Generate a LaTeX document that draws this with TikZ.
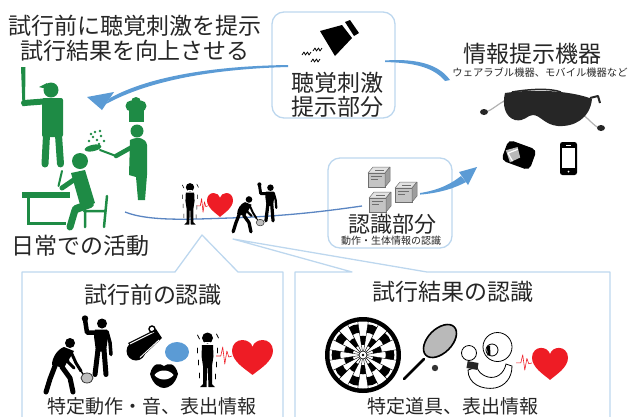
\documentclass[tikz,border=0pt]{standalone}
\usepackage{fontspec}
\newfontfamily\jpfont{Noto Sans CJK JP}
\usetikzlibrary{calc}

\definecolor{ink}{HTML}{262626}
\definecolor{boxline}{HTML}{BDD7EE}
\definecolor{arrowblue}{HTML}{5B9BD5}
\definecolor{linkblue}{HTML}{5A85C2}
\definecolor{leaf}{HTML}{1E8B45}
\definecolor{heartred}{HTML}{EE1C25}
\definecolor{cubetop}{HTML}{E2E2E2}
\definecolor{cubefront}{HTML}{C4C4C4}
\definecolor{cubeside}{HTML}{9E9E9E}
\definecolor{cubeedge}{HTML}{6E6E6E}

\tikzset{
  jp/.style={font=\jpfont\fontsize{#1}{#1}\selectfont, text=ink, inner sep=0pt},
  softbox/.style={draw=boxline, line width=1.3pt, rounded corners=12pt, inner sep=0pt},
  calloutline/.style={draw=boxline, line width=1.3pt, line join=round},
  limb/.style={line width=#1, line cap=round, line join=round},
  % red heart, spanning x -1..1 and y -0.85..0.95 (y grows downwards)
  pics/heart/.style={code={
    \fill[heartred] (0,0.95) .. controls (-0.35,0.65) and (-1,0.25) .. (-1,-0.3)
      .. controls (-1,-0.65) and (-0.75,-0.85) .. (-0.5,-0.85)
      .. controls (-0.25,-0.85) and (-0.05,-0.7) .. (0,-0.5)
      .. controls (0.05,-0.7) and (0.25,-0.85) .. (0.5,-0.85)
      .. controls (0.75,-0.85) and (1,-0.65) .. (1,-0.3)
      .. controls (1,0.25) and (0.35,0.65) .. (0,0.95) -- cycle;
  }},
  % pulse trace, spanning x 0..1
  pics/ecg/.style={code={
    \draw[heartred, line width=0.6pt, line join=round]
      (0,0.1) -- (0.3,0.1) -- (0.42,-0.8) -- (0.55,0.9) -- (0.68,-0.4) -- (0.8,0.2) -- (1,0.1);
  }},
  % trembling person
  pics/stressed/.style={code={
    \fill[black] (0,-22) circle (5.5);
    \fill[black] (-5.5,-15) -- (5.5,-15) -- (6,-4) -- (4.5,6) -- (4.5,24) -- (7.5,27)
      -- (1,27) -- (0.3,8) -- (-0.3,8) -- (-1,27) -- (-7.5,27) -- (-4.5,24) -- (-4.5,6)
      -- (-6,-4) -- cycle;
    \draw[white, limb=0.9*#1] (-2.5,-18) -- (2.5,-18);
    \draw[black, limb=0.8*#1] (-10,-25) -- (-8,-21) (9,-26) -- (11,-22)
      (-10,-12) -- (-10,-7) (10,-12) -- (10,-7) (-9,0) -- (-9,5) (9,2) -- (9,7)
      (-8,13) -- (-8,18) (8,14) -- (8,19);
  }},
  % man raising a fist
  pics/flexer/.style={code={
    \fill[black] (3,-22) circle (5);
    \draw[black, limb=4.5*#1] (-1,-13) -- (-12,-13) -- (-14,-26);
    \fill[black] (-14,-27) circle (3.2);
    \fill[black] (-4,-16) -- (8,-16) -- (9,-9) -- (7,6) -- (-3,6) -- (-5,-9) -- cycle;
    \draw[black, limb=3.5*#1] (8,-14) -- (11,-3) -- (12,9);
    \draw[black, limb=5*#1] (-1,4) -- (-4,29) (5,4) -- (7,29);
  }},
  % tennis player bent forward
  pics/tennis/.style={code={
    \fill[black] (3,-22) circle (5);
    \fill[black] (-3,-18) .. controls (-9,-16) and (-15,-8) .. (-15,0) -- (-3,3)
      .. controls (0,-4) and (5,-9) .. (7,-14) -- cycle;
    \draw[black, limb=5*#1] (-12,1) -- (-17,14) -- (-21,27) (-5,2) -- (3,13) -- (6,27);
    \draw[black, limb=3*#1] (4,-13) -- (9,-2) -- (14,6) (-1,-14) -- (1,-3) -- (7,3);
    \draw[black, limb=1.5*#1] (14,6) -- (16,9);
    \filldraw[fill=gray!50, draw=gray!40!black, line width=0.8*#1] (20,13) ellipse (6 and 5);
  }},
  % grey sensor box
  pics/cube/.style={code={
    \filldraw[fill=cubetop, draw=cubeedge, line width=0.5pt, line join=round]
      (-11,-4) -- (-6,-10) -- (11,-10) -- (6,-4) -- cycle;
    \filldraw[fill=cubefront, draw=cubeedge, line width=0.5pt] (-11,-4) rectangle (6,10);
    \filldraw[fill=cubeside, draw=cubeedge, line width=0.5pt, line join=round]
      (6,-4) -- (11,-10) -- (11,4) -- (6,10) -- cycle;
    \draw[cubeedge, line width=0.4pt] (-8,-1) -- (3,-1) (-8,2) -- (-1,2) (-4,-7) -- (5,-7);
  }},
}

\begin{document}
\begin{tikzpicture}[x=1pt, y=-1pt]
\useasboundingbox (0,0) rectangle (630,416);
\clip (0,0) rectangle (630,416);

% ---------- frames ----------
\node[softbox, minimum width=123pt, minimum height=106pt] (hearbox) at (333.5,65) {};
\node[softbox, minimum width=124pt, minimum height=90pt] (recogbox) at (390,203) {};
\coordinate (calloutL) at (202,235);
\coordinate (calloutR) at (233,239);
\draw[calloutline] (22,420) -- (22,272) -- (175,272) -- (calloutL) -- (238,272) -- (283,272) -- (283,420);
\draw[calloutline] (295,420) -- (295,272) -- (352,272) -- (calloutR) -- (427,272) -- (610,272) -- (610,420);

% ---------- connectors ----------
\coordinate (actEnd) at (125,212);
\coordinate (cueIn) at (362,206);
\coordinate (cueOut) at (420,193);
\coordinate (devIn) at (477,167);
\coordinate (hearL) at (288,65);
\coordinate (hearR) at (385,60.5);
\coordinate (actTip) at (87,97);
\coordinate (devTop) at (450,80);

\draw[linkblue, line width=1.3pt] (actEnd) .. controls (150,222) and (195,219) .. (230,218)
  .. controls (285,216) and (320,212) .. (cueIn);

% recognition -> devices
\fill[arrowblue] (cueOut) .. controls (440,190) and (452,183) .. (461,176)
  -- (466,182) .. controls (455,188) and (440,193) .. ($(cueOut)+(0,1.6)$) -- cycle;
\fill[arrowblue] (devIn) -- (459,172) -- (468,185) -- cycle;

% stimulus unit -> everyday activity
\fill[arrowblue] (hearL) .. controls (215,66) and (150,76) .. (110,98)
  -- (106,104) .. controls (150,80) and (215,69) .. ($(hearL)+(0,2)$) -- cycle;
\fill[arrowblue] (actTip) -- (114,92) -- (102,110) -- cycle;

% stimulus unit -> devices
\fill[arrowblue] (hearR) .. controls (420,58) and (440,66) .. (devTop)
  -- ($(devTop)+(-5,1)$) .. controls (435,69) and (418,62.5) .. ($(hearR)+(0,1.6)$) -- cycle;

% ---------- everyday activities (green) ----------
% batter
\fill[leaf] (21,67) -- (25.5,67) -- (25,106) -- (22.5,106) -- cycle;
\draw[leaf, limb=6] (24,103) -- (50,101);
\fill[leaf] (51,90) circle (7.5);
\fill[leaf] (39,87) -- (47,83) -- (47,89) -- cycle;
\fill[leaf, rounded corners=2pt] (42,98) rectangle (63,137);
\draw[leaf, limb=7] (46.5,135) -- (45,164) (58.5,135) -- (60.5,164);
% chef
\fill[leaf] (129,108) rectangle (144,122);
\fill[leaf] (131,106) circle (5.5);
\fill[leaf] (141,106) circle (5.5);
\fill[leaf] (136,102) circle (5);
\fill[leaf] (137,131) circle (6.5);
\fill[leaf] (130,140) .. controls (138,136) and (146,138) .. (147,145) -- (147,175)
  -- (145,200) -- (138,200) -- (136,177) -- (129,175) -- cycle;
\draw[leaf, limb=4.5] (132,147) -- (116,156);
\draw[leaf, limb=2] (116,156) -- (100,150);
\fill[leaf, rotate around={12:(93,148)}] (93,148) ellipse (8.5 and 3.2);
\foreach \p in {(89,141),(93,137),(97,140),(101,136),(95,132),(100,131),(91,134),(104,141),(99,144)}
  \fill[leaf] \p circle (1.3);
% student at a desk
\fill[leaf] (80,161) circle (8);
\fill[leaf] (71,173) -- (85,170) -- (95,203) -- (81,208) -- cycle;
\draw[leaf, limb=5] (78,177) -- (62,188);
\draw[leaf, limb=2] (62,171) -- (58.5,186);
\draw[leaf, limb=8] (90,204) -- (76,209);
\draw[leaf, limb=7] (75,210) -- (70,227);
\draw[leaf, line width=2.5pt, line cap=round] (107,196) -- (104,227) (84,211) -- (104,211) (85,211) -- (85,227);
\fill[leaf] (22,192) rectangle (70,198);
\draw[leaf, line width=2.5pt] (28.5,198) -- (28.5,223.5) -- (66,223.5);

% ---------- recognised activity (centre) ----------
\pic[scale=0.76] (stressC) at (190,204) {stressed=0.76};
\pic[xscale=11, yscale=8] (ecgC) at (197,205) {ecg};
\pic[xscale=13, yscale=13.3] (heartC) at (220,204.3) {heart};
\pic[scale=0.66] (tennisC) at (247,214) {tennis=0.66};
\pic[scale=0.65] (flexC) at (268.5,202) {flexer=0.65};

% ---------- stimulus unit icon ----------
\fill[black] (320,31) -- (342,25) -- (352,38) -- (335,56) -- cycle;
\fill[black] (345,22) -- (350,20) -- (359,33) -- (354,36) -- cycle;
\draw[black, line width=0.8pt, line join=round]
  (302,55) -- (304,52) -- (305.5,55) -- (307.5,52) -- (309,55) -- (311,52)
  (313,51) -- (315,48) -- (316.5,51) -- (318.5,48) -- (320,51) -- (322,48)
  (311,62) -- (313,59) -- (314.5,62) -- (316.5,59) -- (318,62) -- (320,59);

% ---------- recognition unit icon ----------
\pic (cubeA) at (379,177) {cube};
\pic (cubeB) at (406,192) {cube};
\pic (cubeC) at (380,202) {cube};

% ---------- devices ----------
\draw[gray!60, line width=1.2pt] (506,100) .. controls (498,104) and (492,110) .. (486,112);
\fill[gray!30!black] (484,112) ellipse (4 and 3);
\draw[gray!60, line width=1.2pt] (582,114) .. controls (590,120) and (594,126) .. (599,128);
\fill[gray!30!black] (601,128) ellipse (4 and 3);
\fill[black!85] (505,93) .. controls (540,88) and (575,92) .. (592,99)
  .. controls (590,118) and (575,127) .. (558,126) .. controls (545,125) and (540,115) .. (533,115)
  .. controls (527,115) and (525,122) .. (515,120) .. controls (505,117) and (502,105) .. (505,93) -- cycle;
\draw[black!85, line width=1.5pt] (512,92) .. controls (530,89) and (550,88) .. (561,92);
\draw[black!85, line width=2pt, line join=round] (590,98) -- (598,96) -- (600,103);
\begin{scope}[shift={(519,155)}, rotate=-20]
  \fill[black, rounded corners=5pt] (-15,-11) rectangle (15,11);
  \fill[gray!55] (-14,0) -- (-4,-7) -- (2,2) -- (-6,10) -- cycle;
  \draw[white, line width=1.2pt, line join=round] (-3,-5) -- (-11,2) -- (-4,8);
\end{scope}
\fill[black, rounded corners=2.5pt] (560,142) rectangle (577,175);
\fill[white] (562,148) rectangle (575,168);
\fill[white] (568.5,171.5) circle (1);
\draw[white, line width=0.6pt] (566,145) -- (571,145);

% ---------- before the attempt ----------
\pic (tennisL) at (67,365) {tennis=1};
\pic (flexL) at (99,345.5) {flexer=1};
% whistle
\fill[black] (136,351) circle (9.5);
\fill[black] (128,343) -- (156,329) -- (162,338) -- (141,358) -- cycle;
\draw[white, line width=1.1pt] (130,344) -- (154,332);
\draw[white, line width=0.9pt] (140,357.5) -- (159,340);
\draw[black, line width=1.4pt] (152,329) circle (3);
% voice bubble and mouth
\fill[arrowblue] (177,352) ellipse (12 and 10);
\fill[black] (150,374) .. controls (153,362) and (160,363) .. (164,366)
  .. controls (168,363) and (175,362) .. (178,374) .. controls (175,385) and (168,388) .. (164,388)
  .. controls (160,388) and (153,385) .. (150,374) -- cycle;
\fill[white] (154.5,375) .. controls (159,369) and (169,369) .. (173.5,375)
  .. controls (169,381) and (159,381) .. (154.5,375) -- cycle;
\pic (stressL) at (207.5,360) {stressed=1};
\pic[xscale=16, yscale=10] (ecgL) at (216,355) {ecg};
\pic[xscale=20.5, yscale=19.4] (heartL) at (252.5,356.5) {heart};

% ---------- after the attempt ----------
% dartboard
\begin{scope}[shift={(363,355)}]
  \fill[black] (0,0) circle (38);
  \fill[white] (0,0) circle (33.5);
  \foreach \i in {0,...,19}{
    \pgfmathsetmacro\a{\i*18-9}
    \pgfmathsetmacro\b{\i*18+9}
    \pgfmathsetmacro\m{\i*18}
    \ifodd\i
      \fill[black] (\a:10) -- (\m:10.3) -- (\b:10) -- (\b:19) -- (\m:19.3) -- (\a:19) -- cycle;
    \else
      \fill[black] (\a:22.5) -- (\m:22.8) -- (\b:22.5) -- (\b:31) -- (\m:31.4) -- (\a:31) -- cycle;
    \fi
    \draw[black, line width=0.4pt] (\a:4) -- (\a:33.5);
  }
  \draw[black, line width=0.6pt] (0,0) circle (4);
  \fill[black] (0,0) circle (1.4);
\end{scope}
% racket and ball
\draw[black, line width=2.6pt, line cap=round] (404,379) -- (424,359);
\filldraw[fill=gray!55, draw=black, line width=1.6pt, rotate around={45:(440,341)}] (440,341) ellipse (20 and 12);
\fill[black!80] (435,368) circle (3.2);
% boxer
\draw[black, line width=0.8pt] (497.5,347) circle (14.5);
\filldraw[fill=white, draw=black, line width=0.8pt] (468,370) .. controls (468,384) and (482,390) .. (495,388)
  .. controls (505,386) and (512,378) .. (512,366) -- (506,364) .. controls (504,374) and (496,379) .. (488,377)
  .. controls (481,375) and (478,371) .. (477,367) -- cycle;
\filldraw[fill=white, draw=black, line width=0.8pt] (469,353) circle (7.5);
\fill[black!85, rotate around={-10:(472.5,365.5)}] (467,362) rectangle (478,369);
\filldraw[fill=white, draw=black, line width=0.8pt] (492,350) circle (6);
\fill[black] (487,346) -- (490,345.5) -- (490.5,355) -- (487.5,355.5) -- cycle;
\pic[xscale=16, yscale=9] (ecgR) at (516,362) {ecg};
\pic[xscale=18, yscale=17.8] (heartR) at (550,363) {heart};

% ---------- texts ----------
\node[jp=23] (title1) at (135,26) {試行前に聴覚刺激を提示};
\node[jp=23] (title2) at (135,51) {試行結果を向上させる};
\node[jp=23] (hear1) at (337,83) {聴覚刺激};
\node[jp=23] (hear2) at (337,107) {提示部分};
\node[jp=23] (devtitle) at (532,54) {情報提示機器};
\node[jp=10.3] (devsub) at (540,73) {ウェアラブル機器、モバイル機器など};
\node[jp=23] (daily) at (81,246) {日常での活動};
\node[jp=22] (recog) at (392,224) {認識部分};
\node[jp=10] (recogsub) at (391,241) {動作・生体情報の認識};
\node[jp=23] (preT) at (153,295) {試行前の認識};
\node[jp=19] (preS) at (152,406) {特定動作・音、表出情報};
\node[jp=23] (postT) at (452.5,292) {試行結果の認識};
\node[jp=19] (postS) at (453,406) {特定道具、表出情報};
\end{tikzpicture}
\end{document}
